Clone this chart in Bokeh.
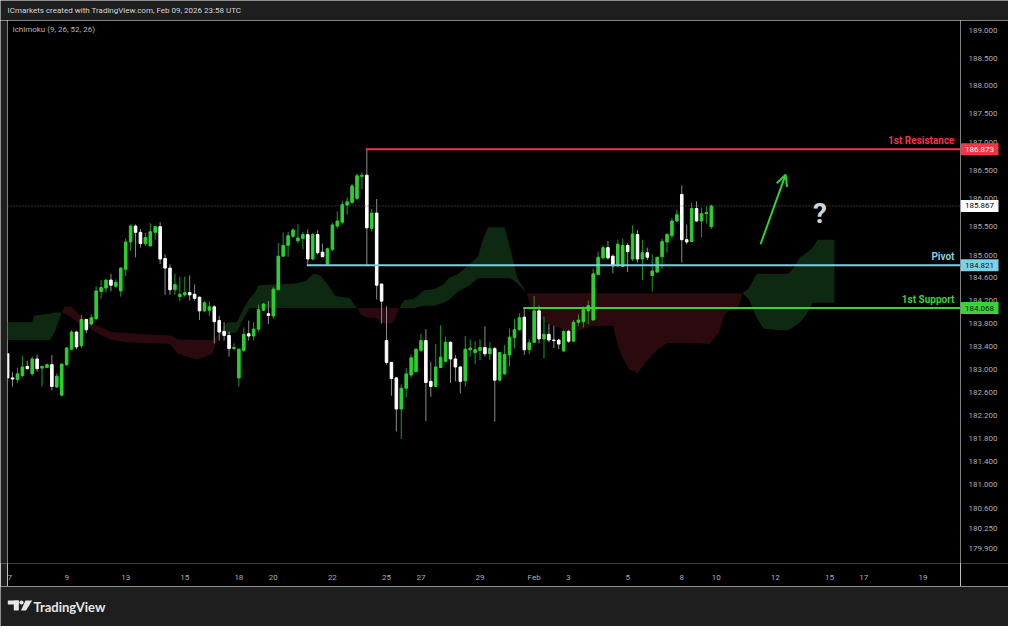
from bokeh.plotting import figure
from bokeh.layouts import column, row
from bokeh.models import (Range1d, FixedTicker, Label, Span, Arrow, OpenHead,
                          ColumnDataSource)
from bokeh.core.properties import value
from bokeh.embed import file_html
from bokeh.resources import INLINE

# ---------------- data (4H candles) ----------------
opens = [183.27, 182.85, 182.82, 182.89, 183.05, 182.92, 183.18, 183.02, 183.03, 183.08,
         182.69, 182.55, 183.08, 183.35, 183.65, 183.41, 183.87, 183.79, 183.88, 184.36,
         184.42, 184.56, 184.45, 184.37, 184.75, 185.23, 185.51, 185.40, 185.20, 185.16,
         185.40, 185.50, 184.94, 184.77, 184.39, 184.27, 184.30, 184.34, 184.31, 184.26,
         184.02, 184.03, 184.09, 183.85, 183.66, 183.59, 183.36, 182.85, 183.33, 183.62,
         183.58, 183.70, 184.03, 183.97, 183.93, 184.39, 184.98, 185.17, 185.33, 185.25,
         185.29, 185.36, 184.93, 185.36, 185.05, 184.84, 185.10, 185.51, 185.58, 185.88,
         185.93, 186.00, 186.39, 186.41, 185.47, 185.74, 184.49, 183.50, 183.12, 182.85,
         182.31, 182.67, 182.90, 182.96, 183.33, 183.50, 182.79, 182.70, 183.03, 183.14,
         183.47, 183.18, 183.04, 182.80, 183.34, 183.29, 183.33, 183.38, 183.27, 183.36,
         182.81, 182.92, 183.25, 183.55, 183.69, 183.91, 183.34, 183.47, 184.02, 183.53,
         183.61, 183.51, 183.51, 183.32, 183.66, 183.49, 183.82, 183.83, 184.02, 183.86,
         184.66, 184.95, 185.13, 184.98, 184.81, 184.80, 185.17, 184.93, 185.36, 184.93,
         185.04, 184.64, 184.70, 184.97, 185.23, 185.34, 185.60, 186.07, 185.27, 185.24,
         185.82, 185.60, 185.73, 185.50]
highs = [183.29, 182.95, 183.03, 183.23, 183.15, 183.22, 183.25, 183.06, 183.10, 183.25,
         182.93, 183.10, 183.39, 183.68, 183.67, 183.95, 183.88, 183.96, 184.45, 184.56,
         184.57, 184.67, 184.57, 184.79, 185.29, 185.54, 185.54, 185.46, 185.39, 185.56,
         185.51, 185.58, 185.01, 184.84, 184.67, 184.62, 184.62, 184.64, 184.48, 184.27,
         184.19, 184.19, 184.12, 183.93, 183.82, 183.66, 183.45, 183.36, 183.73, 183.85,
         183.82, 184.13, 184.16, 184.19, 184.44, 185.21, 185.40, 185.41, 185.47, 185.54,
         185.41, 185.45, 185.39, 185.44, 185.20, 185.13, 185.57, 185.77, 185.96, 186.02,
         186.25, 186.44, 186.46, 186.873, 185.81, 185.99, 184.50, 184.10, 183.13, 182.86,
         182.74, 183.02, 183.26, 183.36, 183.62, 183.70, 183.13, 183.44, 183.77, 183.57,
         183.49, 183.25, 183.05, 183.58, 183.52, 183.49, 183.52, 183.75, 183.47, 183.39,
         183.30, 183.42, 183.71, 183.88, 183.98, 184.07, 183.53, 184.28, 184.11, 183.92,
         183.79, 183.76, 183.53, 183.69, 183.69, 183.86, 183.96, 184.10, 184.20, 184.76,
         185.06, 185.17, 185.25, 185.01, 185.27, 185.29, 185.21, 185.52, 185.44, 185.27,
         185.13, 185.01, 184.97, 185.29, 185.39, 185.65, 185.80, 186.23, 185.54, 185.92,
         185.95, 185.84, 185.86, 185.89]
lows = [182.83, 182.70, 182.76, 182.86, 183.00, 182.89, 182.96, 182.70, 183.02, 182.63,
        182.68, 182.53, 183.06, 183.33, 183.35, 183.37, 183.63, 183.76, 183.87, 184.23,
        184.34, 184.36, 184.42, 184.27, 184.63, 185.07, 184.96, 185.13, 185.16, 185.15,
        185.27, 184.84, 184.30, 184.30, 184.30, 184.19, 184.27, 184.20, 184.20, 183.86,
        184.00, 183.93, 183.45, 183.50, 183.50, 183.22, 183.33, 182.70, 183.30, 183.50,
        183.50, 183.66, 184.02, 183.79, 183.88, 184.38, 184.96, 184.97, 185.30, 185.21,
        185.10, 184.81, 184.91, 185.01, 184.97, 184.83, 185.07, 185.47, 185.54, 185.71,
        185.90, 185.97, 186.16, 184.81, 185.41, 184.22, 183.80, 183.08, 182.54, 181.92,
        181.79, 182.51, 182.85, 182.95, 183.30, 182.10, 182.52, 182.69, 183.02, 183.12,
        182.76, 182.79, 182.58, 182.70, 183.22, 183.09, 183.16, 183.22, 183.16, 182.09,
        182.79, 182.90, 183.05, 183.36, 183.67, 183.25, 183.26, 183.46, 183.45, 183.19,
        183.47, 183.37, 183.35, 183.30, 183.46, 183.47, 183.76, 183.73, 183.79, 183.85,
        184.64, 184.92, 184.92, 184.68, 184.79, 184.79, 184.70, 184.89, 184.87, 184.56,
        184.91, 184.36, 184.68, 184.76, 185.04, 185.30, 185.58, 184.87, 185.19, 185.23,
        185.58, 185.31, 185.56, 185.46]
closes = [182.85, 182.83, 182.92, 183.04, 183.01, 183.18, 183.01, 183.05, 183.08, 182.70,
          182.88, 183.09, 183.37, 183.65, 183.39, 183.87, 183.69, 183.90, 184.37, 184.43,
          184.56, 184.47, 184.52, 184.77, 185.23, 185.51, 185.40, 185.20, 185.31, 185.41,
          185.50, 184.93, 184.77, 184.39, 184.48, 184.31, 184.34, 184.30, 184.24, 184.02,
          184.16, 184.09, 183.83, 183.65, 183.59, 183.36, 183.38, 183.35, 183.61, 183.58,
          183.70, 184.04, 184.14, 183.94, 184.40, 184.98, 185.17, 185.34, 185.44, 185.30,
          185.36, 184.93, 185.36, 185.04, 184.97, 185.11, 185.53, 185.60, 185.89, 185.94,
          186.22, 186.40, 186.41, 185.48, 185.74, 184.47, 184.19, 183.12, 182.84, 182.31,
          182.67, 182.92, 183.20, 183.35, 183.50, 182.77, 182.70, 183.04, 183.21, 183.47,
          183.18, 183.04, 182.79, 183.35, 183.37, 183.34, 183.38, 183.27, 183.36, 182.81,
          183.29, 183.26, 183.56, 183.69, 183.90, 183.34, 183.46, 184.02, 183.53, 183.61,
          183.51, 183.50, 183.44, 183.66, 183.49, 183.82, 183.86, 184.04, 184.11, 184.67,
          184.96, 185.13, 184.95, 184.81, 185.19, 185.17, 185.06, 185.37, 184.93, 185.04,
          184.96, 184.72, 184.96, 185.24, 185.36, 185.60, 185.71, 185.27, 185.23, 185.82,
          185.60, 185.73, 185.75, 185.867]

# Ichimoku cloud (leading spans A and B, shifted 26 bars ahead)
cloud_x = [0, 5, 5.4, 8.6, 9.6, 11, 11.6, 13, 14.6, 16.2, 18.6, 21, 24.6, 33, 34.6, 38.6,
           41.6, 43, 44.6, 46.6, 48, 49.2, 50.2, 51, 58.6, 60.6, 62.2, 63.6, 65, 66.6, 69.6,
           70.6, 71, 71.8, 73, 74.6, 76.6, 78.2, 79.6, 80.6, 82.6, 84.6, 86.6, 88.6, 89.6,
           91.6, 93.6, 95.6, 96.6, 97.6, 101, 102.2, 103.6, 105.5, 106.3, 108, 110, 115.3,
           118.6, 123, 124, 125, 126.3, 128, 129.3, 132, 134, 138.6, 142.6, 144.6, 145.6,
           146.6, 148.6, 149.3, 150.6, 152.2, 153.6, 156.6, 158.6, 159.6, 161, 162.2, 163.6,
           164.6, 168]
span_a = [183.82, 183.82, 183.94, 183.97, 183.99, 183.99, 183.97, 183.90, 183.80, 183.75,
          183.61, 183.51, 183.47, 183.44, 183.27, 183.17, 183.27, 183.61, 183.82, 183.82,
          184.07, 184.24, 184.33, 184.47, 184.50, 184.55, 184.67, 184.64, 184.48, 184.28,
          184.24, 184.11, 184.07, 183.95, 183.90, 183.90, 183.80, 183.80, 184.07, 184.21,
          184.23, 184.38, 184.40, 184.48, 184.59, 184.67, 184.81, 184.98, 185.27, 185.49,
          185.49, 185.10, 184.59, 184.33, 184.10, 183.90, 183.78, 183.64, 183.76, 183.76,
          183.42, 183.20, 183.00, 182.93, 183.08, 183.34, 183.46, 183.46, 183.44, 183.64,
          183.93, 184.04, 184.10, 184.33, 184.41, 184.67, 184.67, 184.67, 184.67, 184.76,
          184.96, 185.03, 185.13, 185.27, 185.27]
span_b = [183.51, 183.51, 183.51, 183.51, 183.65, 183.99, 184.10, 184.09, 183.95, 183.82,
          183.75, 183.65, 183.63, 183.59, 183.52, 183.51, 183.51, 183.61, 183.61, 183.65,
          183.90, 184.07, 184.07, 184.07, 184.07, 184.07, 184.07, 184.07, 184.07, 184.07,
          184.07, 184.07, 184.07, 184.07, 184.07, 184.07, 184.07, 184.07, 184.07, 184.07,
          184.07, 184.11, 184.11, 184.16, 184.21, 184.36, 184.45, 184.59, 184.59, 184.59,
          184.59, 184.59, 184.50, 184.33, 184.33, 184.33, 184.33, 184.33, 184.33, 184.33,
          184.33, 184.33, 184.33, 184.33, 184.33, 184.33, 184.33, 184.33, 184.33, 184.33,
          184.33, 184.33, 184.33, 184.33, 184.23, 183.90, 183.71, 183.68, 183.68, 183.73,
          183.82, 183.94, 184.16, 184.16, 184.16]

# Axis ticks
time_ticks = [0, 12, 24, 36, 47, 54, 66, 77, 84, 96, 107, 114, 126, 137, 144, 156, 167, 174, 186]
time_labels = ["7", "9", "13", "15", "18", "20", "22", "25", "27", "29", "Feb", "3", "5",
               "8", "10", "12", "15", "17", "19"]
price_ticks = [189.0, 188.5, 188.0, 187.5, 187.0, 186.5, 186.0, 185.5, 185.0, 184.6, 184.2,
               183.8, 183.4, 183.0, 182.6, 182.2, 181.8, 181.4, 181.0, 180.6, 180.25, 179.9]

# Key levels
level_names = ["1st Resistance", "Pivot", "1st Support"]
level_prices = [186.873, 184.821, 184.068]
level_start = [72.8, 60.8, 104.8]
level_colors = ["#f23645", "#7fd0e4", "#3ad13d"]
level_tag_text = ["#ffffff", "#0c1a1e", "#0b1a0b"]
last_price = 185.867

# ---------------- styling / layout ----------------
BG = "#000000"
PANEL = "#1e1e1e"
UP = "#2bd12f"
DOWN = "#ffffff"
UP_WICK = "#1f9a22"
DOWN_WICK = "#8c8c8c"
AXIS_TXT = "#a9acb5"
FONT = "Roboto"

W = 1008
H_HEAD, H_MAIN, H_FOOT = 20, 566, 40
STRIP = 7
AXIS_R, AXIS_B = 48, 23
x_start, x_end = -0.02, 193.64
y_lo, y_hi = 179.649, 189.175
yr = Range1d(y_lo, y_hi)


def panel(w, h):
    f = figure(width=w, height=h, x_range=Range1d(0, w), y_range=Range1d(h, 0),
               x_axis_location=None, y_axis_location=None, toolbar_location=None,
               output_backend="svg", min_border=0, background_fill_color=PANEL,
               border_fill_color=PANEL, outline_line_color=None)
    f.grid.visible = False
    return f


# header
head = panel(W, H_HEAD)
head.add_layout(Label(x=7, y=10, text="ICmarkets created with TradingView.com, Feb 09, 2026 23:58 UTC",
                      text_font=FONT, text_font_size="8px", text_color="#d1d4dc",
                      text_baseline="middle", text_align="left"))

# left strip
strip = panel(STRIP, H_MAIN)

# main chart (frame + time axis)
p = figure(width=W - STRIP - AXIS_R, height=H_MAIN, x_range=Range1d(x_start, x_end),
           y_range=yr, y_axis_type="log", y_axis_location=None,
           toolbar_location=None, output_backend="svg", background_fill_color=BG,
           border_fill_color=BG, outline_line_color=None, min_border_left=0,
           min_border_top=0, min_border_right=0, min_border_bottom=AXIS_B)
p.xgrid.grid_line_color = None
p.ygrid.grid_line_color = None
ax = p.xaxis[0]
ax.axis_line_color = None
ax.major_tick_line_color = None
ax.minor_tick_line_color = None
ax.major_tick_out = 0
ax.major_tick_in = 0
ax.major_label_text_color = AXIS_TXT
ax.major_label_text_font = FONT
ax.major_label_text_font_size = "8px"
ax.ticker = FixedTicker(ticks=time_ticks)
ax.major_label_overrides = {t: s for t, s in zip(time_ticks, time_labels)}
ax.major_label_standoff = 9

# cloud: split into coloured pieces where span A and span B cross
pieces = []
cur = [[cloud_x[0]], [span_a[0]], [span_b[0]]]
for i in range(1, len(cloud_x)):
    cur[0].append(cloud_x[i]); cur[1].append(span_a[i]); cur[2].append(span_b[i])
    if span_a[i] == span_b[i] or i == len(cloud_x) - 1:
        pieces.append(cur)
        cur = [[cloud_x[i]], [span_a[i]], [span_b[i]]]
for xs, a, b in pieces:
    diff = sum(ai - bi for ai, bi in zip(a, b))
    col = "#0e2911" if diff > 0 else "#2a0a0f"
    p.varea(x=xs, y1=a, y2=b, fill_color=col, fill_alpha=1.0)

# current price dotted line
p.add_layout(Span(location=last_price, dimension="width", line_color="#5d606b",
                  line_dash="1 2", line_width=1))

# candles
n = len(opens)
is_up = [c >= o for o, c in zip(opens, closes)]
src = ColumnDataSource(dict(
    x=list(range(n)),
    top=[max(o, c) for o, c in zip(opens, closes)],
    bottom=[min(o, c) for o, c in zip(opens, closes)],
    high=highs, low=lows,
    body=[UP if u else DOWN for u in is_up],
    wick=[UP_WICK if u else DOWN_WICK for u in is_up],
))
p.segment(x0="x", y0="high", x1="x", y1="low", line_color="wick", line_width=1, source=src)
p.vbar(x="x", width=0.52, top="top", bottom="bottom", fill_color="body",
       line_color="body", line_width=1, source=src)

# key levels
for name, price, start, col in zip(level_names, level_prices, level_start, level_colors):
    p.segment(x0=[start], y0=[price], x1=[x_end], y1=[price], line_color=col, line_width=2)
    p.add_layout(Label(x=x_end, y=price, x_offset=-6, y_offset=3, text=name,
                       text_align="right", text_baseline="bottom", text_color=col,
                       text_font=FONT, text_font_size="10px", text_font_style="bold"))

# indicator legend
p.add_layout(Label(x=x_start, y=y_hi, x_offset=5, y_offset=-9, text="Ichimoku (9, 26, 52, 26)",
                   text_align="left", text_baseline="middle", text_color="#b2b5be",
                   text_font=FONT, text_font_size="8px"))

# arrow and question mark
p.add_layout(Arrow(end=OpenHead(size=11, line_color="#2fd13a", line_width=2),
                   x_start=153.0, y_start=185.19, x_end=158.1, y_end=186.42,
                   line_color="#2fd13a", line_width=2))
p.add_layout(Label(x=165.1, y=185.73, text="?", text_align="center", text_baseline="middle",
                   text_color="#d1d4dc", text_font=FONT, text_font_size="28px",
                   text_font_style="bold"))

# price scale column (shares the log price range with the chart)
pax = figure(width=AXIS_R, height=H_MAIN, x_range=Range1d(0, AXIS_R), y_range=yr,
             y_axis_type="log", x_axis_location=None, y_axis_location=None,
             toolbar_location=None, output_backend="svg", background_fill_color=BG,
             border_fill_color=BG, outline_line_color=None, min_border_left=0,
             min_border_right=0, min_border_top=0, min_border_bottom=AXIS_B)
pax.grid.visible = False
pax.text(x=[8] * len(price_ticks), y=price_ticks, text=[f"{t:.3f}" for t in price_ticks],
         text_align="left", text_baseline="middle", text_color=AXIS_TXT,
         text_font=value(FONT), text_font_size="8px")
tag_prices = level_prices + [last_price]
tag_bg = level_colors + ["#ffffff"]
tag_fg = level_tag_text + ["#000000"]
pax.rect(x=[19] * len(tag_prices), y=tag_prices, width=38, height=12, height_units="screen",
         fill_color=tag_bg, line_color=None)
pax.text(x=[19] * len(tag_prices), y=tag_prices, text=[f"{v:.3f}" for v in tag_prices],
         text_align="center", text_baseline="middle", text_color=tag_fg,
         text_font=value(FONT), text_font_size="8px")

# footer with TradingView mark
foot = panel(W, H_FOOT)
foot.quad(left=[7.3], right=[18.3], top=[14], bottom=[18], fill_color="#e6e6e6", line_color=None)
foot.quad(left=[13.3], right=[18.3], top=[14], bottom=[24], fill_color="#e6e6e6", line_color=None)
foot.scatter(x=[21.0], y=[16.0], size=4.2, marker="circle", fill_color="#e6e6e6", line_color=None)
foot.patch(x=[25.0, 31.7, 25.5, 20.5], y=[14, 14, 24, 24], fill_color="#e6e6e6", line_color=None)
foot.add_layout(Label(x=33, y=20, text="TradingView", text_align="left", text_baseline="middle",
                      text_color="#e6e6e6", text_font="Lato", text_font_size="13px",
                      text_font_style="bold"))

layout = column(head, row(strip, p, pax, spacing=0), foot, spacing=0)
open("out.html", "w").write(file_html(layout, INLINE))
